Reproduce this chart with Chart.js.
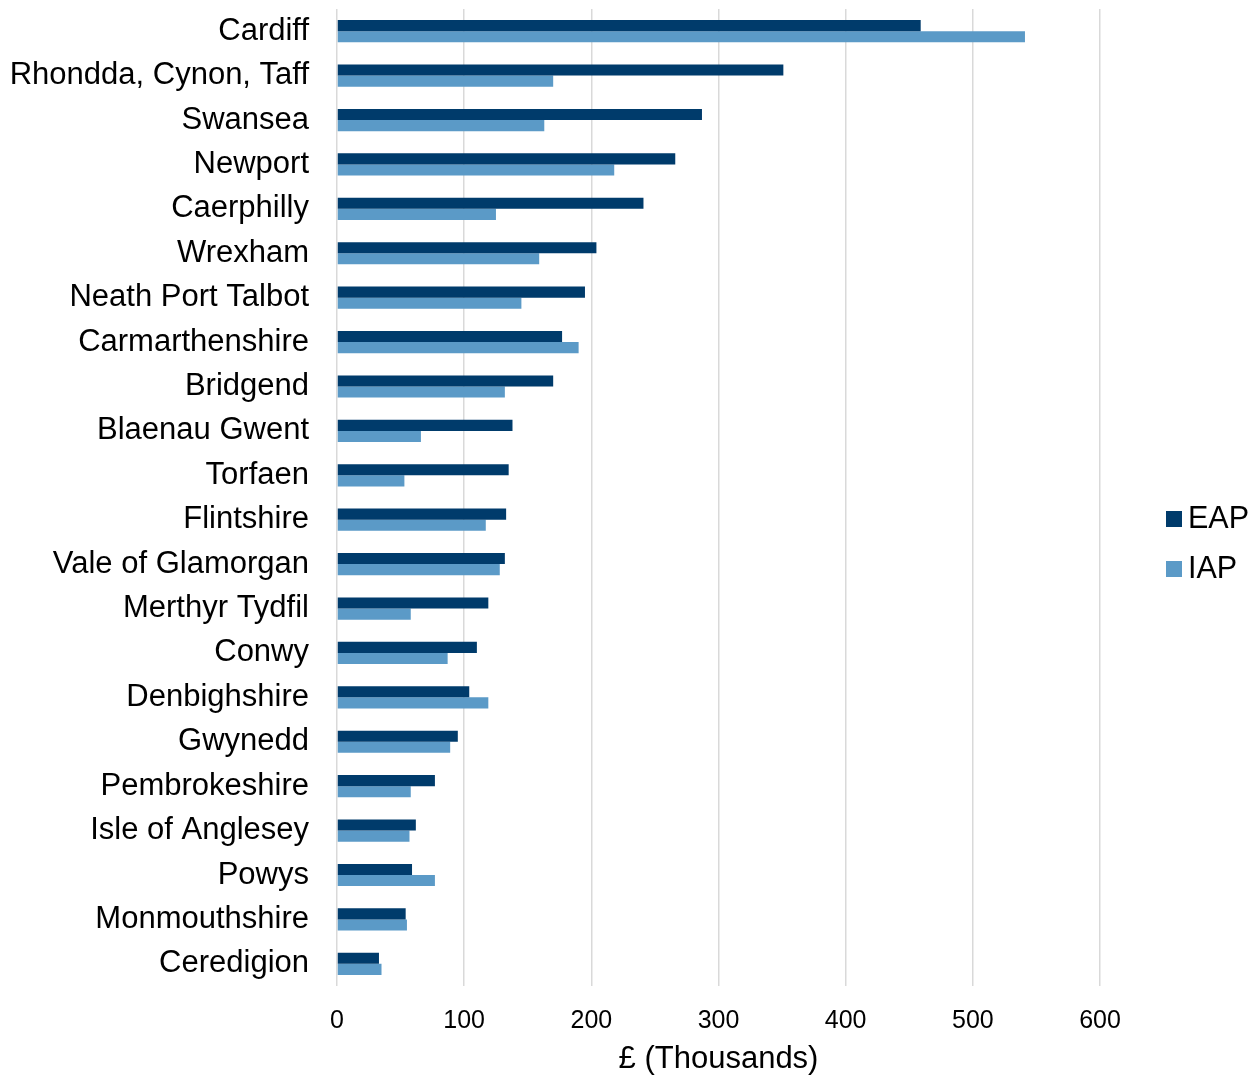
<!DOCTYPE html>
<html>
<head>
<meta charset="utf-8">
<script src="https://cdn.jsdelivr.net/npm/chart.js@4"></script>
<style>
  html, body { margin: 0; padding: 0; background: #fff; }
  #wrap { width: 1258px; height: 1077px; }
</style>
</head>
<body>
<div id="wrap"><canvas id="chart" width="1258" height="1077"></canvas></div>
<script>
// local authorities, top to bottom
const areas = [
  "Cardiff", "Rhondda, Cynon, Taff", "Swansea", "Newport", "Caerphilly",
  "Wrexham", "Neath Port Talbot", "Carmarthenshire", "Bridgend", "Blaenau Gwent",
  "Torfaen", "Flintshire", "Vale of Glamorgan", "Merthyr Tydfil", "Conwy",
  "Denbighshire", "Gwynedd", "Pembrokeshire", "Isle of Anglesey", "Powys",
  "Monmouthshire", "Ceredigion"
];

// £ thousands
const eap = [459, 351, 287, 266, 241, 204, 195, 177, 170, 138,
             135, 133, 132, 119, 110, 104, 95, 77, 62, 59, 54, 33];
const iap = [541, 170, 163, 218, 125, 159, 145, 190, 132, 66,
             53, 117, 128, 58, 87, 119, 89, 58, 57, 77, 55, 35];

const xTicks = [0, 100, 200, 300, 400, 500, 600];

const FONT = "'Liberation Sans', Arial, sans-serif";

// legend drawn by hand so it can sit where the original has it
const sideLegend = {
  id: "sideLegend",
  afterDraw(chart) {
    const ctx = chart.ctx;
    ctx.save();
    ctx.font = "30.5px " + FONT;
    ctx.textBaseline = "middle";
    chart.data.datasets.forEach((ds, i) => {
      const y = 519 + i * 50;
      ctx.fillStyle = ds.backgroundColor;
      ctx.fillRect(1166, y - 8, 16, 16);
      ctx.fillStyle = "#000";
      ctx.fillText(ds.label, 1188, y + 1);
    });
    ctx.restore();
  },
};

new Chart(document.getElementById("chart"), {
  type: "bar",
  data: {
    labels: areas,
    datasets: [
      { label: "EAP", data: eap, backgroundColor: "#003b6b", borderWidth: 0 },
      { label: "IAP", data: iap, backgroundColor: "#5b9ac7", borderWidth: 0 },
    ],
  },
  options: {
    indexAxis: "y",
    responsive: false,
    animation: false,
    devicePixelRatio: 1,
    categoryPercentage: 0.5,
    barPercentage: 1.0,
    layout: { padding: { top: 9, right: 158, bottom: 0, left: 0 } },
    plugins: {
      legend: { display: false },
      tooltip: { enabled: false },
    },
    scales: {
      x: {
        min: 0,
        max: 600,
        afterBuildTicks: (axis) => {
          axis.ticks = xTicks.map((v) => ({ value: v }));
        },
        afterFit: (axis) => {
          axis.height = 91;
        },
        grid: { color: "#d9d9d9", lineWidth: 1.5, drawTicks: false },
        border: { display: false },
        ticks: { color: "#000", padding: 20, font: { family: FONT, size: 25 } },
        title: {
          display: true,
          text: "£ (Thousands)",
          color: "#000",
          padding: { top: 8, bottom: 0 },
          font: { family: FONT, size: 31, lineHeight: 1.1 },
        },
      },
      y: {
        afterFit: (axis) => {
          axis.width = 337;
          axis.paddingTop = 0;
          axis.paddingBottom = 0;
        },
        grid: { display: false, drawTicks: false },
        border: { display: false },
        ticks: { color: "#000", padding: 28, font: { family: FONT, size: 31 } },
      },
    },
  },
  plugins: [sideLegend],
});
</script>
</body>
</html>
